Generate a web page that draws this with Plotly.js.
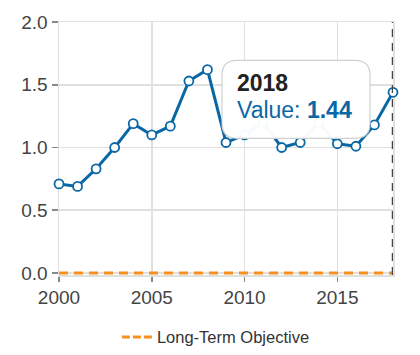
<!DOCTYPE html>
<html>
<head>
<meta charset="utf-8">
<script src="https://cdn.plot.ly/plotly-3.0.1.min.js"></script>
<style>html,body{margin:0;padding:0;background:#fff;}#chart{width:420px;height:355px;}</style>
</head>
<body>
<div id="chart"></div>
<script>
var years = [2000,2001,2002,2003,2004,2005,2006,2007,2008,2009,2010,2011,2012,2013,2014,2015,2016,2017,2018];
var values = [0.71,0.69,0.83,1.00,1.19,1.10,1.17,1.53,1.62,1.04,1.10,1.20,1.00,1.04,1.20,1.03,1.01,1.18,1.44];
var objective = [0,0,0,0,0,0,0,0,0,0,0,0,0,0,0,0,0,0,0];
var seriesName = "Value";
var objectiveName = "Long-Term Objective";
var hoverIndex = years.length - 1;

var blue = "#0a67a6";
var orange = "#f7901e";
var traces = [
  {x: years, y: objective, name: objectiveName, type: "scatter", mode: "lines",
   line: {color: orange, width: 3, dash: "9px,6px"}, showlegend: false},
  {x: [null], y: [null], name: objectiveName, type: "scatter", mode: "lines",
   line: {color: orange, width: 3, dash: "8px,3px"}, showlegend: true},
  {x: years, y: values, name: seriesName, type: "scatter", mode: "lines+markers",
   line: {color: blue, width: 3},
   marker: {size: 9, color: "#fff", line: {color: blue, width: 1.8}},
   showlegend: false, cliponaxis: false}
];
var hx = years[hoverIndex], hy = values[hoverIndex];
var layout = {
  width: 420, height: 355,
  margin: {l: 59, r: 27, t: 22, b: 80, autoexpand: false},
  paper_bgcolor: "#fff", plot_bgcolor: "#fff",
  font: {family: "Liberation Sans, Arial, sans-serif", color: "#444"},
  xaxis: {range: [2000, 2018], tickvals: [2000, 2005, 2010, 2015], ticks: "outside", ticklen: 5,
          tickcolor: "#888", tickwidth: 1.5, showgrid: true, gridcolor: "#e0e0e0", gridwidth: 1.5,
          zeroline: false, showline: true, mirror: true, linecolor: "#e0e0e0", linewidth: 1.5,
          layer: "below traces", tickfont: {size: 19, color: "#444"}},
  yaxis: {range: [-0.016, 2], tickvals: [0, 0.5, 1, 1.5, 2], tickformat: ".1f", ticks: "outside", ticklen: 6,
          tickcolor: "#888", tickwidth: 1.5, showgrid: true, gridcolor: "#e0e0e0", gridwidth: 1.5,
          zeroline: false, showline: true, mirror: true, linecolor: "#e0e0e0", linewidth: 1.5,
          layer: "below traces", tickfont: {size: 19, color: "#444"}},
  legend: {orientation: "h", xref: "container", yref: "container", x: 0.514, xanchor: "center",
           y: 0.05, yanchor: "middle", font: {size: 16.5, color: "#333"}},
  shapes: [
    {type: "line", xref: "x", yref: "paper", x0: hx, x1: hx, y0: 0, y1: 1,
     line: {color: "#444", width: 2.5, dash: "8px,6px"}, layer: "above"},
    {type: "path", xref: "x", yref: "y", xsizemode: "pixel", ysizemode: "pixel",
     xanchor: hx, yanchor: hy, layer: "above",
     path: "M -156,32 L -38,32 Q -23,32 -23,17 L -23,-31 Q -23,-46 -38,-46 L -156,-46 Q -171,-46 -171,-31 L -171,17 Q -171,32 -156,32 Z",
     fillcolor: "rgba(255,255,255,0.97)", line: {color: "#d0d0d0", width: 1.2}}
  ],
  annotations: [
    {xref: "x", yref: "y", x: hx, y: hy, xanchor: "left", yanchor: "middle", showarrow: false,
     xshift: -158, yshift: 9, align: "left",
     text: "<b>" + hx + "</b>", font: {size: 23, color: "#222"}},
    {xref: "x", yref: "y", x: hx, y: hy, xanchor: "left", yanchor: "middle", showarrow: false,
     xshift: -158, yshift: -18, align: "left",
     text: seriesName + ": <b>" + hy.toFixed(2) + "</b>", font: {size: 23, color: blue}}
  ]
};
Plotly.newPlot("chart", traces, layout, {staticPlot: true, displayModeBar: false});
</script>
</body>
</html>
